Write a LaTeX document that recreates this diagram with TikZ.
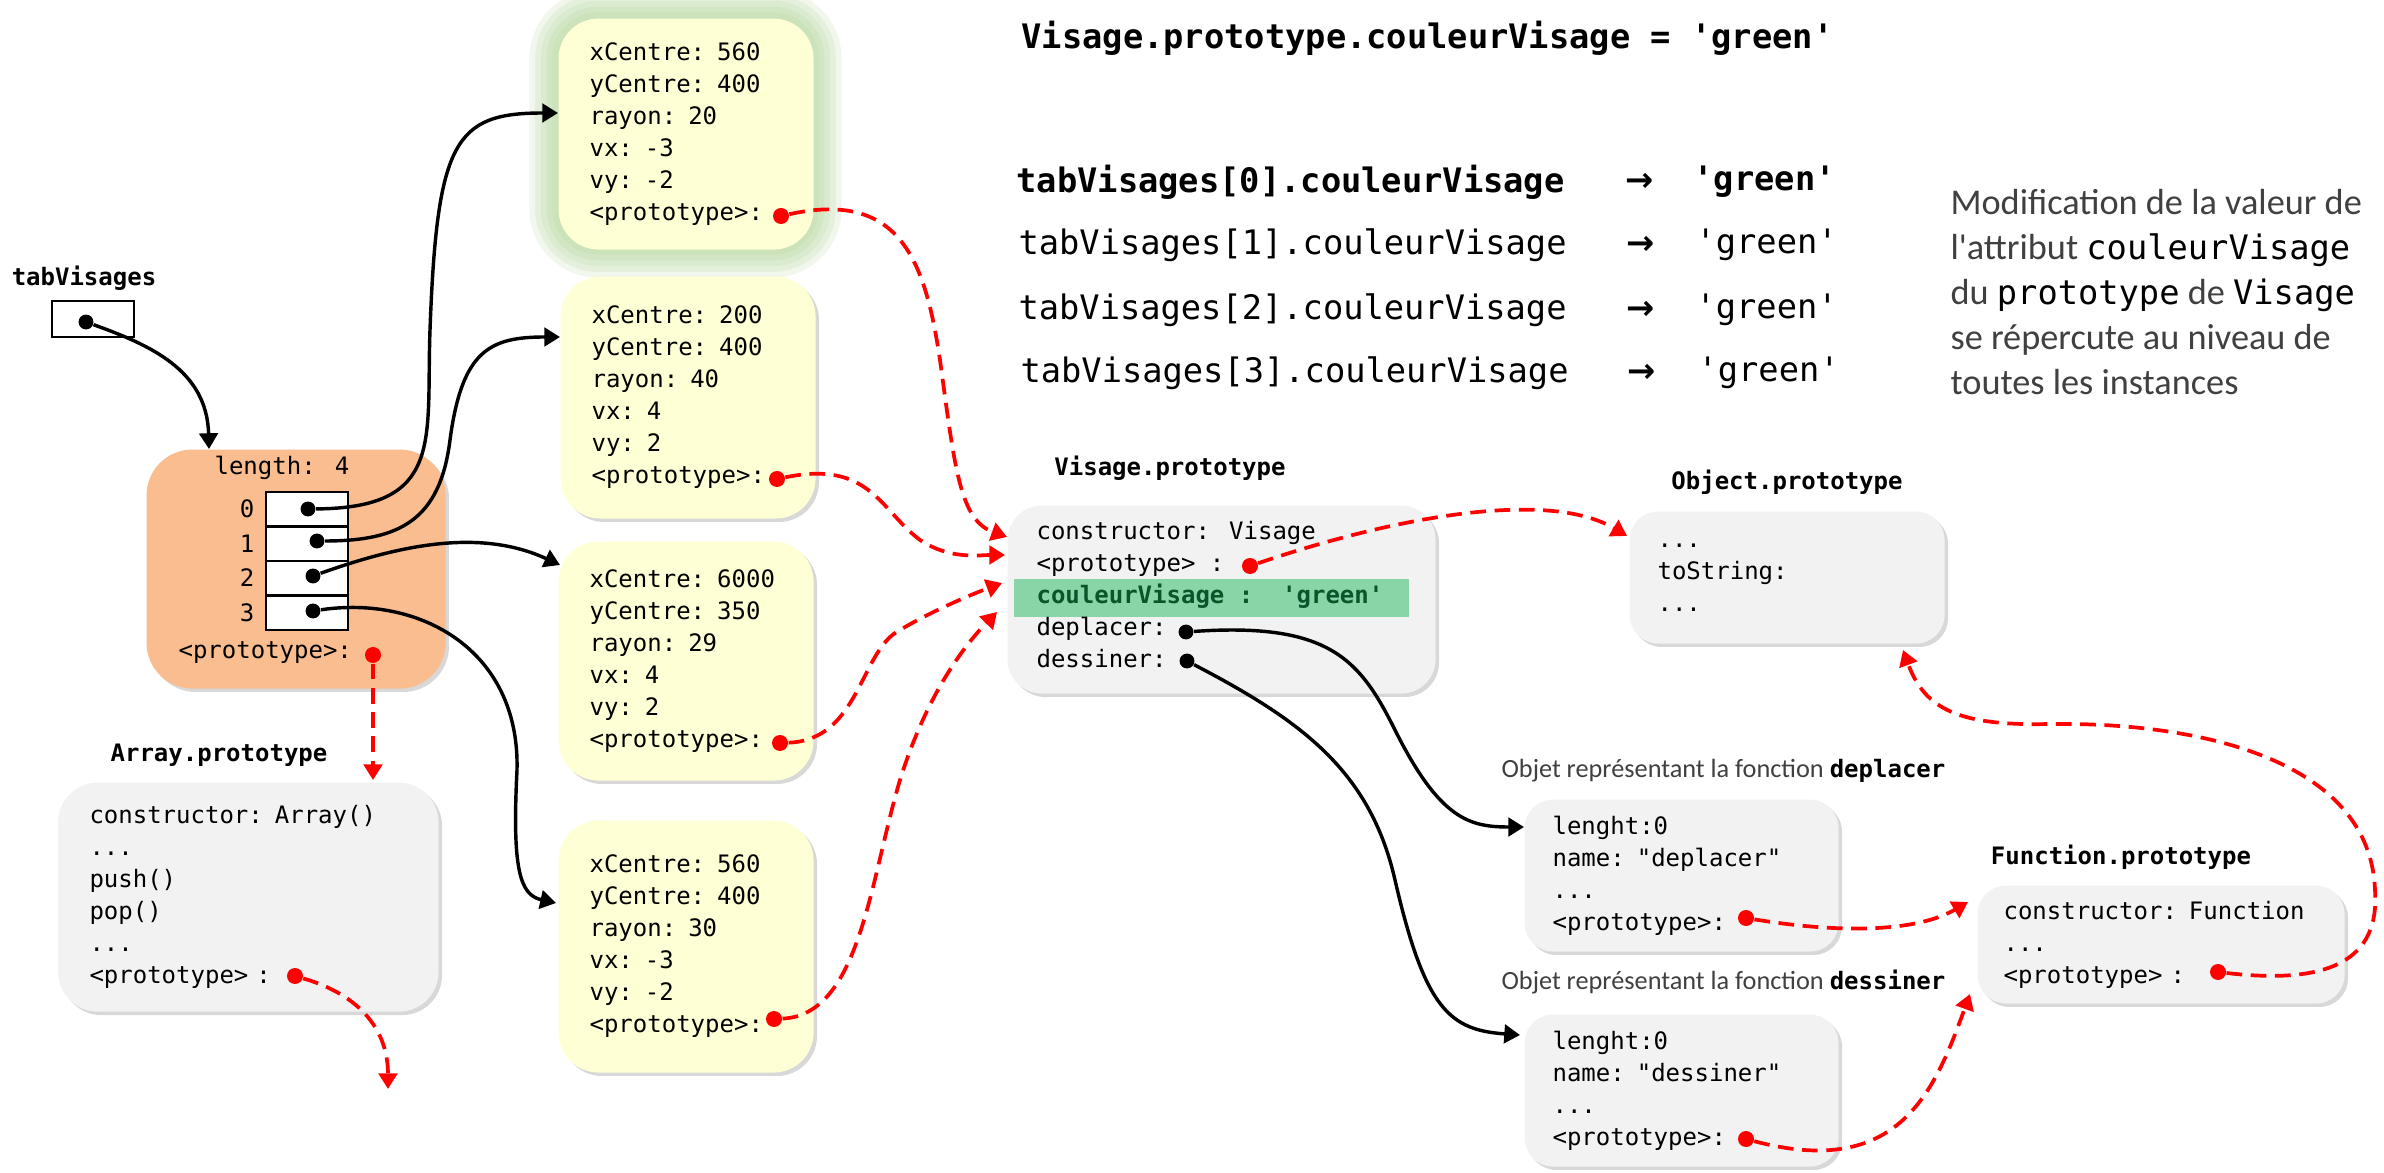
\documentclass[tikz,border=0pt]{standalone}
\usepackage{fontspec}
\setmainfont{Carlito}
\newfontfamily\codefont{DejaVu Sans Mono}
\newfontfamily\symfont{DejaVu Sans}
\usetikzlibrary{arrows.meta,shadows}

\definecolor{boxyellow}{RGB}{255,255,214}
\definecolor{boxgray}{RGB}{242,242,242}
\definecolor{boxorange}{RGB}{249,189,143}
\definecolor{hlgreen}{RGB}{138,213,168}
\definecolor{txtgreen}{RGB}{12,84,42}
\definecolor{glowgreen}{RGB}{169,209,142}
\definecolor{lighttext}{RGB}{64,64,64}

\newcommand\boxfont{\codefont\fontsize{8.4}{11.2}\selectfont}
\newcommand\bigcode{\codefont\fontsize{11.8}{14}\selectfont}
\newcommand\notecode[1]{{\codefont\fontsize{11.8}{15.75}\selectfont\color{black}#1}}
\newcommand\sqt{\textquotesingle}
\newcommand\dqt{\textquotedbl}

\tikzset{
  softshadow/.style={drop shadow={opacity=.3,shadow xshift=1.2pt,shadow yshift=-1.2pt}},
  objbox/.style={anchor=north west,align=left,inner ysep=0pt,font=\boxfont},
  yellowbox/.style={objbox,fill=boxyellow,rounded corners=14pt,text width=67.55pt,inner xsep=10.85pt},
  graybox/.style={objbox,fill=boxgray,rounded corners=10pt,softshadow},
  boxlabel/.style={font=\boxfont\bfseries},
  dot/.style={circle,fill=black,inner sep=0pt,minimum size=5.2pt},
  reddot/.style={circle,fill=red,inner sep=0pt,minimum size=5.6pt},
  cell/.style={draw,fill=white,line width=0.9pt,minimum width=28.7pt,minimum height=12.1pt,inner sep=0pt},
  glow/.style={glowgreen,opacity=.16,rounded corners=14pt},
  ptr/.style={->,line width=1.2pt},
  protolink/.style={->,red,line width=1.3pt,dash pattern=on 5.5pt off 3pt}
}

\begin{document}
\begin{tikzpicture}[x=0.35pt,y=-0.35pt,>={Triangle[length=5.5pt,width=6.5pt]}]
\useasboundingbox (0,0) rectangle (2384,1173);
\fill[white] (0,0) rectangle (2384,1173);

% the array variable
\node[boxlabel] (lblTab) at (84,278) {tabVisages};
\node[draw,line width=1pt,minimum width=28.7pt,minimum height=12.6pt,inner sep=0pt] (tabbox) at (93,319) {};
\node[dot] (dTab) at (86,322) {};

% the array object
\node[fill=boxorange,rounded corners=16pt,anchor=north west,minimum width=104.65pt,minimum height=83.65pt,softshadow] (arrbox) at (146,449) {};
\node[font=\boxfont] (lenlbl) at (282,468) {length: 4};
\node[cell] (c0) at (307,509.25) {};
\node[cell] (c1) at (307,543.75) {};
\node[cell] (c2) at (307,578.25) {};
\node[cell] (c3) at (307,612.75) {};
\node[font=\boxfont,anchor=east,inner sep=0pt] (i0) at (255,509) {0};
\node[font=\boxfont,anchor=east,inner sep=0pt] (i1) at (255,544) {1};
\node[font=\boxfont,anchor=east,inner sep=0pt] (i2) at (255,578) {2};
\node[font=\boxfont,anchor=east,inner sep=0pt] (i3) at (255,613) {3};
\node[font=\boxfont,anchor=west,inner sep=0pt] (arrprotolbl) at (178,653) {<prototype>:};
\node[dot] (d0) at (308,509) {};
\node[dot] (d1) at (317,541) {};
\node[dot] (d2) at (313,576) {};
\node[dot] (d3) at (313,611) {};
\node[reddot] (pArr) at (373,655) {};

% Array.prototype
\node[boxlabel] (lblArr) at (219,755) {Array.prototype};
\node[graybox,rounded corners=14pt,text width=111.2pt,inner xsep=11pt,minimum height=80.2pt] (arrproto) at (57.5,782)
  {constructor: Array()\\...\\push()\\pop()\\...\\<prototype> :};
\node[reddot] (pArrP) at (295,976) {};

% the four faces
\draw[glow,line width=20pt] (558,18) rectangle (813,249);
\draw[glow,line width=16pt] (558,18) rectangle (813,249);
\draw[glow,line width=12pt] (558,18) rectangle (813,249);
\draw[glow,line width=8pt] (558,18) rectangle (813,249);
\draw[glow,line width=4pt] (558,18) rectangle (813,249);
\node[yellowbox,minimum height=80.85pt] (visA) at (558,18)
  {xCentre: 560\\yCentre: 400\\rayon: 20\\vx: -3\\vy: -2\\<prototype>:};
\node[yellowbox,softshadow,minimum height=84.7pt] (visB) at (560,276)
  {xCentre: 200\\yCentre: 400\\rayon: 40\\vx: 4\\vy: 2\\<prototype>:};
\node[yellowbox,softshadow,minimum height=83.65pt] (visC) at (558,541)
  {xCentre: 6000\\yCentre: 350\\rayon: 29\\vx: 4\\vy: 2\\<prototype>:};
\node[yellowbox,softshadow,minimum height=88.2pt] (visD) at (558,820)
  {xCentre: 560\\yCentre: 400\\rayon: 30\\vx: -3\\vy: -2\\<prototype>:};
\node[reddot] (pA) at (781,216) {};
\node[reddot] (pB) at (777,479) {};
\node[reddot] (pC) at (780,743) {};
\node[reddot] (pD) at (774,1019) {};

% Visage.prototype
\node[boxlabel] (lblVis) at (1170,468) {Visage.prototype};
\node[graybox,rounded corners=12pt,minimum width=149.8pt,minimum height=65.8pt] (visproto) at (1007,505) {};
\fill[hlgreen] (1014,579) rectangle (1409,617);
\node[font=\boxfont,align=left,anchor=west,inner sep=0pt] (vistxt) at (1036,595)
  {constructor: Visage\\<prototype> :\\{\bfseries\color{txtgreen}couleurVisage :~~\sqt green\sqt}\\deplacer:\\dessiner:};
\node[reddot] (pVis) at (1250,566) {};
\node[dot] (dDep) at (1186,632) {};
\node[dot] (dDes) at (1187,661) {};

% Object.prototype
\node[boxlabel] (lblObj) at (1787,482) {Object.prototype};
\node[graybox,text width=90.65pt,inner xsep=9.8pt,minimum height=46.2pt] (objproto) at (1629,511)
  {...\\toString:\\...};

% function objects
\node[anchor=west,text=lighttext,font=\fontsize{9.2}{11}\selectfont,inner sep=0pt] (capDep) at (1501,771)
  {Objet représentant la fonction {\boxfont\bfseries\color{black}deplacer}};
\node[graybox,text width=90.3pt,inner xsep=9.8pt,minimum height=53.2pt] (fdepl) at (1524,799)
  {lenght:0\\name: \dqt deplacer\dqt\\...\\<prototype>:};
\node[reddot] (pDep) at (1746,918) {};
\node[anchor=west,text=lighttext,font=\fontsize{9.2}{11}\selectfont,inner sep=0pt] (capDes) at (1501,982)
  {Objet représentant la fonction {\boxfont\bfseries\color{black}dessiner}};
\node[graybox,text width=90.3pt,inner xsep=9.8pt,minimum height=53.2pt] (fdess) at (1524,1014)
  {lenght:0\\name: \dqt dessiner\dqt\\...\\<prototype>:};
\node[reddot] (pDes) at (1746,1139) {};

% Function.prototype
\node[boxlabel] (lblFn) at (2121,857) {Function.prototype};
\node[graybox,text width=110.25pt,inner xsep=9.1pt,minimum height=41.3pt] (fnproto) at (1977,885)
  {constructor: Function\\...\\<prototype> :};
\node[reddot] (pFn) at (2218,972) {};

% statement and reads
\node[font=\bigcode\bfseries,anchor=west,inner sep=0pt] (assign) at (1021,38) {Visage.prototype.couleurVisage = \sqt green\sqt};
\node[font=\bigcode\bfseries,anchor=west,inner sep=0pt] (read0) at (1016,182) {tabVisages[0].couleurVisage};
\node[font=\bigcode,anchor=west,inner sep=0pt] (read1) at (1018,245) {tabVisages[1].couleurVisage};
\node[font=\bigcode,anchor=west,inner sep=0pt] (read2) at (1018,310) {tabVisages[2].couleurVisage};
\node[font=\bigcode,anchor=west,inner sep=0pt] (read3) at (1020,373) {tabVisages[3].couleurVisage};
\node[font=\symfont\bfseries\fontsize{11.8}{14}\selectfont,inner sep=0pt] (to0) at (1640,182) {→};
\node[font=\symfont\bfseries\fontsize{11.8}{14}\selectfont,inner sep=0pt] (to1) at (1641,245) {→};
\node[font=\symfont\bfseries\fontsize{11.8}{14}\selectfont,inner sep=0pt] (to2) at (1641,310) {→};
\node[font=\symfont\bfseries\fontsize{11.8}{14}\selectfont,inner sep=0pt] (to3) at (1642,373) {→};
\node[font=\bigcode\bfseries,anchor=west,inner sep=0pt] (val0) at (1693,182) {\sqt green\sqt};
\node[font=\bigcode,anchor=west,inner sep=0pt] (val1) at (1695,245) {\sqt green\sqt};
\node[font=\bigcode,anchor=west,inner sep=0pt] (val2) at (1695,310) {\sqt green\sqt};
\node[font=\bigcode,anchor=west,inner sep=0pt] (val3) at (1697,373) {\sqt green\sqt};
\node[anchor=west,align=left,text=lighttext,font=\fontsize{12.7}{15.75}\selectfont,inner sep=0pt] (note) at (1950,292)
  {Modification de la valeur de\\l\sqt attribut \notecode{couleurVisage}\\du \notecode{prototype} de \notecode{Visage}\\se répercute au niveau de\\toutes les instances};

% arrow ends
\coordinate (arrTop) at (209,449);
\coordinate (inA) at (558,113);
\coordinate (inB) at (560,337);
\coordinate (inC) at (560,565);
\coordinate (inD) at (556,903);
\coordinate (arrIn) at (373,780);
\coordinate (arrOut) at (388,1089);
\coordinate (vinA) at (1007,537);
\coordinate (vinB) at (1005,555);
\coordinate (vinC) at (1002,583);
\coordinate (vinD) at (997,612);
\coordinate (objIn) at (1627,536);
\coordinate (objUp) at (1903,650);
\coordinate (depIn) at (1524,827);
\coordinate (desIn) at (1520,1035);
\coordinate (fnInA) at (1968,902);
\coordinate (fnInB) at (1970,994);

% references
\draw[ptr] (dTab) .. controls (150,345) and (207,370) .. (arrTop);
\draw[ptr] (d0) .. controls (445,508) and (426,440) .. (430,330) .. controls (437,140) and (455,113) .. (inA);
\draw[ptr] (d1) .. controls (400,541) and (440,520) .. (450,440) .. controls (462,350) and (490,337) .. (inB);
\draw[ptr] (d2) .. controls (400,545) and (480,528) .. (inC);
\draw[ptr] (d3) .. controls (420,595) and (520,650) .. (517,770) .. controls (512,870) and (520,895) .. (inD);
\draw[ptr] (dDep) .. controls (1330,622) and (1360,660) .. (1395,730) .. controls (1440,820) and (1470,827) .. (depIn);
\draw[ptr] (dDes) .. controls (1300,720) and (1370,770) .. (1395,880) .. controls (1425,1010) and (1450,1030) .. (desIn);

% prototype chain
\draw[protolink] (pArr) -- (arrIn);
\draw[protolink] (pArrP) .. controls (360,995) and (388,1030) .. (arrOut);
\draw[protolink] (pA) .. controls (900,190) and (925,260) .. (940,360) .. controls (955,470) and (960,520) .. (vinA);
\draw[protolink] (pB) .. controls (870,460) and (880,510) .. (920,540) .. controls (950,560) and (980,555) .. (vinB);
\draw[protolink] (pC) .. controls (860,740) and (860,650) .. (900,630) .. controls (930,612) and (970,595) .. (vinC);
\draw[protolink] (pD) .. controls (860,1015) and (870,880) .. (900,780) .. controls (925,700) and (960,650) .. (vinD);
\draw[protolink] (pVis) .. controls (1400,515) and (1550,490) .. (objIn);
\draw[protolink] (pDep) .. controls (1850,935) and (1920,930) .. (fnInA);
\draw[protolink] (pDes) .. controls (1900,1180) and (1935,1090) .. (fnInB);
\draw[protolink] (pFn) .. controls (2330,985) and (2380,960) .. (2375,890) .. controls (2370,760) and (2200,722) .. (2050,724) .. controls (1960,726) and (1925,710) .. (objUp);

\end{tikzpicture}
\end{document}
